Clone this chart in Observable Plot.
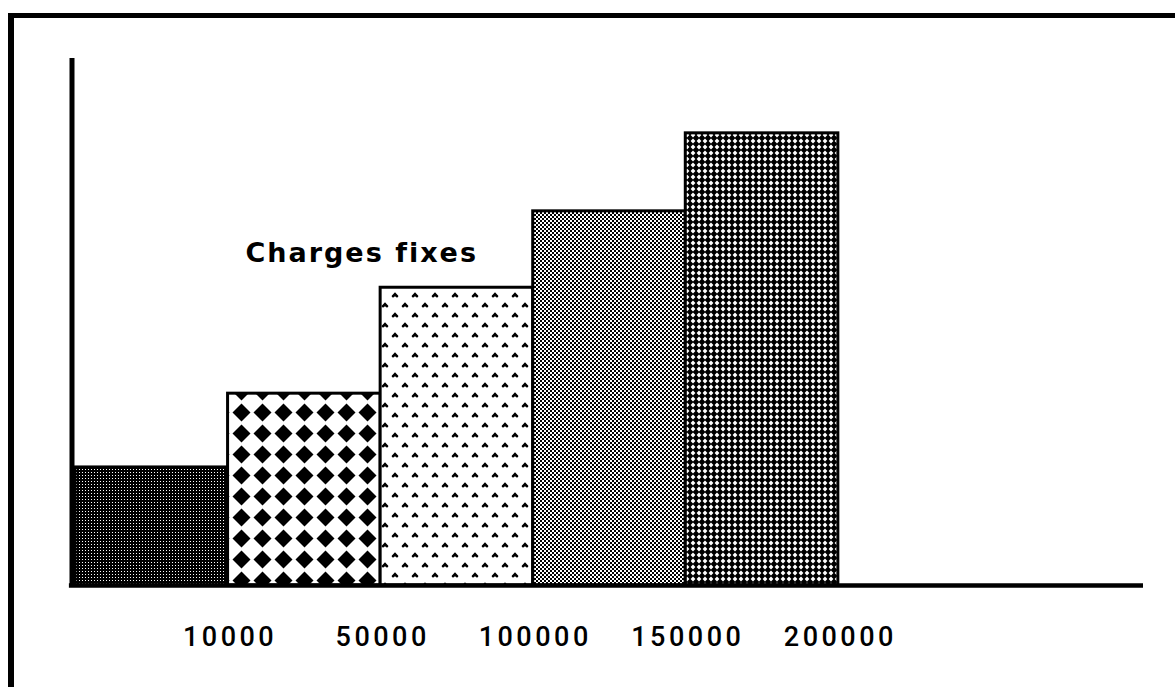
<!DOCTYPE html>
<html>
<head>
<meta charset="utf-8">
<script src="https://cdn.jsdelivr.net/npm/d3@7"></script>
<script src="https://cdn.jsdelivr.net/npm/@observablehq/plot@0.6"></script>
<style>
  html, body { margin: 0; padding: 0; background: #fff; overflow: hidden; }
  #frame { position: absolute; left: 8px; top: 13px; width: 1300px; height: 800px;
           border-top: 5px solid #000; border-left: 6px solid #000; box-sizing: border-box; }
  #chart { position: absolute; left: 0; top: 0; }
</style>
</head>
<body>
<svg width="0" height="0" style="position:absolute">
  <defs>
    <pattern id="pat0" patternUnits="userSpaceOnUse" width="3" height="3">
      <rect width="3" height="3" fill="#000"/>
      <rect x="1" y="1" width="1" height="1" fill="#fff"/>
    </pattern>
    <pattern id="pat1" patternUnits="userSpaceOnUse" x="0" y="3" width="21" height="21">
      <rect width="21" height="21" fill="#fff"/>
      <path d="M10.5,1.5 L19.5,10.5 L10.5,19.5 L1.5,10.5 Z" fill="#000"/>
    </pattern>
    <pattern id="pat2" patternUnits="userSpaceOnUse" width="20" height="20">
      <rect width="20" height="20" fill="#fff"/>
      <path d="M5,2.2 L8.3,5.8 Q8.5,7.8 6.6,7.4 L5,6.2 L3.4,7.4 Q1.5,7.8 1.7,5.8 Z" fill="#000"/>
      <path d="M15,12.2 L18.3,15.8 Q18.5,17.8 16.6,17.4 L15,16.2 L13.4,17.4 Q11.5,17.8 11.7,15.8 Z" fill="#000"/>
    </pattern>
    <pattern id="pat3" patternUnits="userSpaceOnUse" width="4" height="4">
      <rect width="4" height="4" fill="#fff"/>
      <rect x="0" y="0" width="2" height="2" fill="#000"/>
      <rect x="2" y="2" width="2" height="2" fill="#000"/>
    </pattern>
    <pattern id="pat4" patternUnits="userSpaceOnUse" width="6" height="6">
      <rect width="6" height="6" fill="#000"/>
      <path d="M3,0.6 L5.4,3 L3,5.4 L0.6,3 Z" fill="#fff"/>
    </pattern>
  </defs>
</svg>
<div id="frame"></div>
<div id="chart"></div>
<script>
// Data
const tickLabels = ["10000", "50000", "100000", "150000", "200000"];
const values = [22.4, 36.4, 56.5, 71.0, 85.8];
const annotation = "Charges fixes";

const bars = values.map((v, i) => ({i, v}));
const ticks = tickLabels.map((label, i) => ({pos: i + 1, label}));

const chart = Plot.plot({
  width: 1175,
  height: 687,
  marginLeft: 75,
  marginRight: 32,
  marginTop: 58,
  marginBottom: 102,
  x: {domain: [0, 7], axis: null},
  y: {domain: [0, 100], axis: null},
  color: {type: "identity"},
  style: {background: "transparent", overflow: "visible"},
  marks: [
    Plot.rectY(bars, {
      x1: "i",
      x2: d => d.i + 1,
      y: "v",
      fill: d => `url(#pat${d.i})`,
      stroke: "#000",
      strokeWidth: 3
    }),
    Plot.ruleX([0], {y1: 0, y2: 100, dx: -3.5, stroke: "#000", strokeWidth: 5}),
    Plot.ruleY([0], {x1: -0.04, x2: 7, stroke: "#000", strokeWidth: 4.5}),
    Plot.text(ticks, {
      x: "pos",
      y: () => 0,
      text: "label",
      dx: 2,
      dy: 60,
      lineAnchor: "bottom",
      textAnchor: "middle",
      fontFamily: "Roboto, Liberation Sans, Arial, sans-serif",
      fontWeight: 500,
      fontSize: 27,
      fill: "#000"
    }),
    Plot.text([annotation], {
      x: () => 1.114,
      y: () => 61.3,
      text: d => d,
      lineAnchor: "bottom",
      textAnchor: "start",
      fontFamily: "DejaVu Sans, sans-serif",
      fontWeight: "bold",
      fontSize: 27,
      fill: "#000"
    })
  ]
});
d3.select(chart).selectAll("text").style("letter-spacing", function() {
  return this.textContent === annotation ? "2px" : "3.5px";
});
document.getElementById("chart").appendChild(chart);
</script>
</body>
</html>
